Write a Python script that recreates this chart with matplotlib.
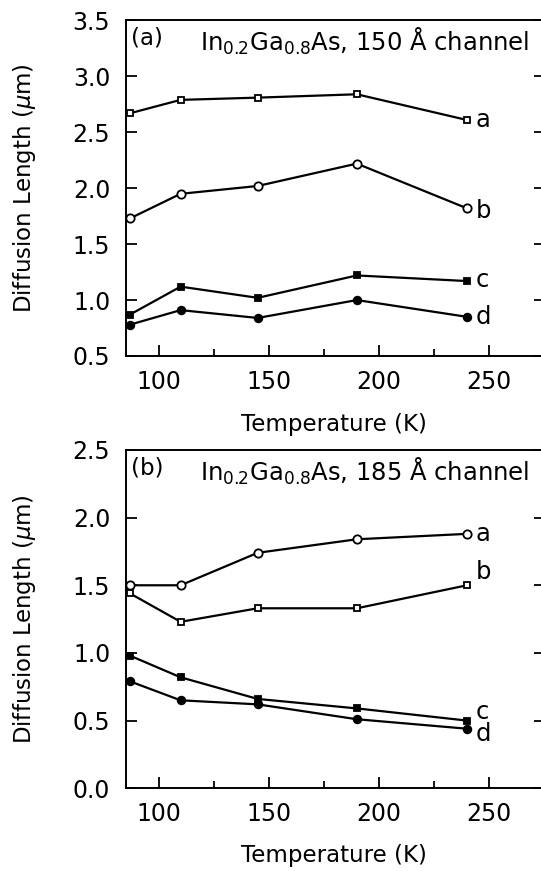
import numpy as np
import matplotlib
matplotlib.use('Agg')
import matplotlib.pyplot as plt
from matplotlib.ticker import MultipleLocator, FormatStrFormatter

plt.rcParams['font.family'] = ['DejaVu Sans']
plt.rcParams['mathtext.fontset'] = 'dejavusans'

# temperatures (K)
temps = [87, 110, 145, 190, 240]

# (a) 150 A channel
a_150 = [2.67, 2.79, 2.81, 2.84, 2.61]
b_150 = [1.73, 1.95, 2.02, 2.22, 1.82]
c_150 = [0.87, 1.12, 1.02, 1.22, 1.17]
d_150 = [0.78, 0.91, 0.84, 1.00, 0.85]

# (b) 185 A channel
a_185 = [1.50, 1.50, 1.74, 1.84, 1.88]
b_185 = [1.44, 1.23, 1.33, 1.33, 1.50]
c_185 = [0.98, 0.82, 0.66, 0.59, 0.50]
d_185 = [0.79, 0.65, 0.62, 0.51, 0.44]

# curve label positions (y) next to last point
lab_150 = {'a': 2.61, 'b': 1.80, 'c': 1.18, 'd': 0.85}
lab_185 = {'a': 1.88, 'b': 1.60, 'c': 0.565, 'd': 0.40}

FS_TICK = 17
FS_LAB = 16.5
FS_TXT = 17.5

fig = plt.figure(figsize=(5.41, 8.71), dpi=100)
ax1 = fig.add_axes([0.232, 0.5913, 0.7754, 0.3852])
ax2 = fig.add_axes([0.232, 0.0950, 0.7754, 0.3884])


def draw(ax, series, labs, ylim, tag, chan, xlab_y):
    styles = [('s', 'white', 5.0), ('o', 'white', 6.0), ('s', 'black', 4.5), ('o', 'black', 5.5)]
    for ys, (m, fc, ms) in zip(series, styles):
        ax.plot(temps, ys, color='black', lw=1.6, marker=m, ms=ms,
                mfc=fc, mec='black', mew=1.3, clip_on=False, zorder=3)
    for k, y in labs.items():
        ax.text(244, y, k, fontsize=FS_TXT, va='center', ha='left')
    ax.set_xlim(85.0, 275.4)
    ax.set_ylim(*ylim)
    ax.xaxis.set_major_locator(MultipleLocator(50))
    ax.xaxis.set_minor_locator(MultipleLocator(25))
    ax.yaxis.set_major_locator(MultipleLocator(0.5))
    ax.tick_params(which='both', direction='in', top=False, right=True,
                   labelsize=FS_TICK, width=1.3)
    ax.tick_params(which='major', length=8)
    ax.tick_params(which='minor', length=5)
    ax.tick_params(axis='x', pad=10)
    ax.tick_params(axis='y', pad=11)
    ax.yaxis.set_major_formatter(FormatStrFormatter('%.1f'))
    for s in ax.spines.values():
        s.set_linewidth(1.4)
    ax.set_xlabel('Temperature (K)', fontsize=FS_LAB)
    ax.set_ylabel(r'Diffusion Length ($\mu$m)', fontsize=FS_LAB)
    ax.xaxis.set_label_coords(0.498, xlab_y)
    ax.yaxis.set_label_coords(-0.209, 0.5)
    ax.text(0.013, 0.927, tag, transform=ax.transAxes, fontsize=FS_TXT - 1, va='baseline')
    ax.text(0.178, 0.91, 'In$_{0.2}$Ga$_{0.8}$As, ' + chan + ' Å channel',
            transform=ax.transAxes, fontsize=FS_TXT, va='baseline')


draw(ax1, [a_150, b_150, c_150, d_150], lab_150, (0.5, 3.5), '(a)', '150', -0.17)
draw(ax2, [b_185, a_185, c_185, d_185], lab_185, (0.0, 2.5), '(b)', '185', -0.165)

fig.savefig('out.png', dpi=100)
